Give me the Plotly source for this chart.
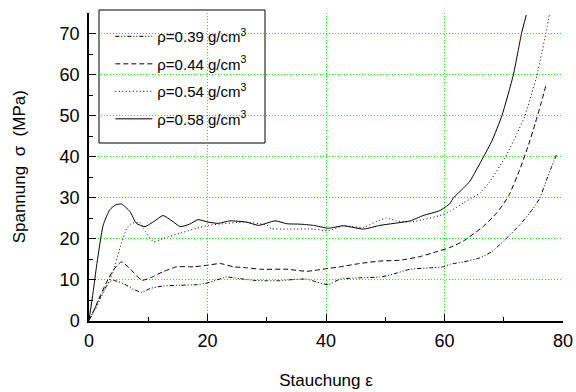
import plotly.graph_objects as go

# ---- data ----
x_039 = [0, 1, 2, 3, 3.5, 4.1, 5.8, 7.5, 8.9, 10.3, 12.5, 15.4, 18.2, 19.5, 21, 23.2, 25.5, 27.7, 30, 32.2,
         34.5, 36.7, 38.4, 40.4, 42.4, 45.7, 49.1, 50.8, 54.2, 57.6, 59.8, 60.9, 63.2, 66, 68, 70.2, 72.7,
         75, 76.1, 77.2, 78.1, 78.9]
y_039 = [0, 3, 6, 8.5, 9.5, 9.8, 9.0, 7.6, 6.9, 7.8, 8.4, 8.6, 8.75, 9.0, 9.6, 10.6, 10.2, 9.8, 9.7, 9.7,
         10.0, 10.1, 9.4, 8.75, 10.1, 10.4, 10.6, 11.1, 12.5, 12.85, 13.1, 13.7, 14.3, 15.3, 16.8, 19.7, 23.3,
         27.4, 29.9, 34.2, 37.6, 40.4]

x_044 = [0, 1, 1.9, 3.0, 4.2, 5.5, 7, 8.9, 10.5, 12.5, 14.8, 17.6, 20.1, 22.1, 24.4, 26.6, 28.9, 33.4, 36.7,
         38.5, 40.4, 42.4, 45.7, 49.1, 52.5, 55.9, 58.7, 60.9, 63.2, 66.5, 68.8, 70.8, 72.7, 74.1, 75.3,
         76.2, 77.2]
y_044 = [0, 3, 6.1, 9.4, 12.5, 14.3, 12.5, 9.8, 10.5, 11.9, 13.1, 13.1, 13.5, 13.9, 13.1, 12.85, 12.5, 12.5,
         12.0, 12.3, 12.7, 13.1, 13.9, 14.5, 14.7, 15.6, 16.8, 17.8, 19.4, 22.9, 26.2, 30.3, 36.8, 42.5, 48,
         52.5, 57.7]

x_054 = [0, 1, 2, 3, 4.1, 5.2, 6.4, 7.2, 8.6, 9.2, 10.9, 12.5, 15.4, 18.2, 20.1, 22.1, 26.0, 30.0, 30.8,
         33.4, 37.9, 40.4, 42.9, 46.3, 48.6, 50.2, 51.9, 54.2, 56.4, 59.2, 60.9, 63.2, 66.0, 67.7, 70.5,
         72.2, 73.6, 74.7, 75.6, 76.4, 77.1, 77.7]
y_054 = [0, 2.5, 5.5, 8.5, 11.9, 17.6, 22.5, 23.7, 23.9, 22.5, 19.2, 20.0, 21.3, 22.5, 23.2, 23.5, 24.0,
         23.3, 22.4, 22.3, 22.3, 21.9, 23.1, 22.7, 24.2, 25, 24.3, 24.0, 24.6, 25.6, 26.6, 28.7, 31.1, 34,
         40.5, 45.5, 50, 55.3, 59.8, 65.1, 70, 74.5]

x_058 = [0, 0.7, 1.3, 2.4, 3.5, 4.5, 5.5, 6.9, 8.0, 9.45, 11, 12.5, 14, 15.4, 17, 18.4, 20.1, 21.8, 23.8,
         26.6, 28.6, 31.4, 33.4, 35.6, 37.9, 40.4, 42.9, 46.3, 49.1, 54.2, 56.4, 59.2, 60.9, 61.5, 63.2,
         64.3, 66.5, 68.0, 69.7, 71.6, 73.0, 73.8]
y_058 = [0, 7, 13.5, 23.3, 27, 28.2, 28.4, 26.6, 23.7, 22.9, 24.2, 25.6, 24.3, 22.9, 23.5, 24.6, 24.0, 23.7,
         24.3, 24.0, 23.2, 24.3, 23.6, 23.5, 23.2, 22.5, 23.1, 22.3, 23.2, 24.3, 25.6, 26.8, 28.5, 29.9,
         32.3, 34, 39.7, 43.8, 50, 59.8, 70, 74.5]

names = ["ρ=0.39 g/cm<sup>3</sup>", "ρ=0.44 g/cm<sup>3</sup>",
         "ρ=0.54 g/cm<sup>3</sup>", "ρ=0.58 g/cm<sup>3</sup>"]
x_ticks = [0, 20, 40, 60, 80]
y_ticks = [0, 10, 20, 30, 40, 50, 60, 70]

FONT = "Arial"
TICKFONT = dict(family=FONT, size=18, color="black")
GRID = "#00ff00"
GRIDDASH = "1px,2px"

# plot area: 13 px top margin, 308 px tall band, y axis spans 307.5 px (4.1 px per unit)
TOP, BAND, YLEN = 13, 308, 307.5
Y_DOMAIN = [1 - YLEN / BAND, 1]

series = [
    (x_039, y_039, names[0], "4px,2px,1px,2px,1px,2px"),
    (x_044, y_044, names[1], "5px,3px"),
    (x_054, y_054, names[2], "1px,2.5px"),
    (x_058, y_058, names[3], "solid"),
]

fig = go.Figure()
for i, (xs, ys, nm, dash) in enumerate(series):
    fig.add_trace(go.Scatter(
        x=xs, y=ys, name=nm, mode="lines",
        line=dict(color="black", width=1, dash=dash, shape="spline", smoothing=0.5),
        legendgroup=f"g{i}",
    ))

# grid-only overlay axis for the vertical green lines (no line at x=80)
fig.add_trace(go.Scatter(x=[0], y=[0], xaxis="x2", mode="markers",
                         marker=dict(opacity=0), showlegend=False, hoverinfo="skip"))

py_top = Y_DOMAIN[1]
def ypix_to_paper(p):
    # paper coordinates relative to the full band (domain 0..1)
    return 1 - (p - TOP) / BAND

fig.update_layout(
    width=576, height=392,
    margin=dict(l=89, r=13, t=TOP, b=392 - TOP - BAND, autoexpand=False),
    paper_bgcolor="white", plot_bgcolor="white",
    font=dict(family=FONT, size=17, color="black"),
    showlegend=True,
    legend=dict(x=0.045, y=0.977, xanchor="left", yanchor="top",
                bgcolor="rgba(0,0,0,0)", borderwidth=0,
                font=dict(family=FONT, size=15, color="black"),
                tracegroupgap=5, itemwidth=37),
    xaxis=dict(range=[0, 80], tickvals=x_ticks, ticks="inside", ticklen=7, tickwidth=1,
               tickcolor="black", showline=True, linecolor="black", linewidth=1.5,
               showgrid=False, zeroline=False, automargin=False, tickfont=TICKFONT,
               anchor="y",
               minor=dict(dtick=10, tick0=0, ticks="inside", ticklen=4, tickcolor="black", showgrid=False),
               ticklabelstandoff=3,
               title=dict(text="Stauchung ε", standoff=24, font=dict(family=FONT, size=17))),
    xaxis2=dict(range=[0, 80], overlaying="x", tickvals=[20, 40, 60], showticklabels=False,
                ticks="", showgrid=True, gridcolor=GRID, griddash=GRIDDASH, gridwidth=1,
                zeroline=False, showline=False, layer="below traces", automargin=False),
    yaxis=dict(range=[0, 75], domain=Y_DOMAIN, tickvals=y_ticks, ticks="inside", ticklen=7, tickwidth=1,
               tickcolor="black", showline=True, linecolor="black", linewidth=1.5,
               showgrid=True, gridcolor=GRID, griddash=GRIDDASH, gridwidth=1, zeroline=False,
               automargin=False, tickfont=TICKFONT,
               minor=dict(dtick=5, tick0=0, ticks="inside", ticklen=4, tickcolor="black", showgrid=False),
               ticklabelstandoff=4,
               title=dict(text="Spannung  σ  (MPa)", standoff=30, font=dict(family=FONT, size=17))),
    shapes=[dict(type="rect", xref="paper", yref="paper",
                 x0=(99 - 89) / 474, x1=(265 - 89) / 474,
                 y0=ypix_to_paper(143), y1=ypix_to_paper(10),
                 line=dict(color="black", width=1), fillcolor="white", layer="between")],
)

fig.write_html("out.html", config={"displayModeBar": False},
               post_script="document.body.style.margin='0';document.body.style.overflow='hidden';")
